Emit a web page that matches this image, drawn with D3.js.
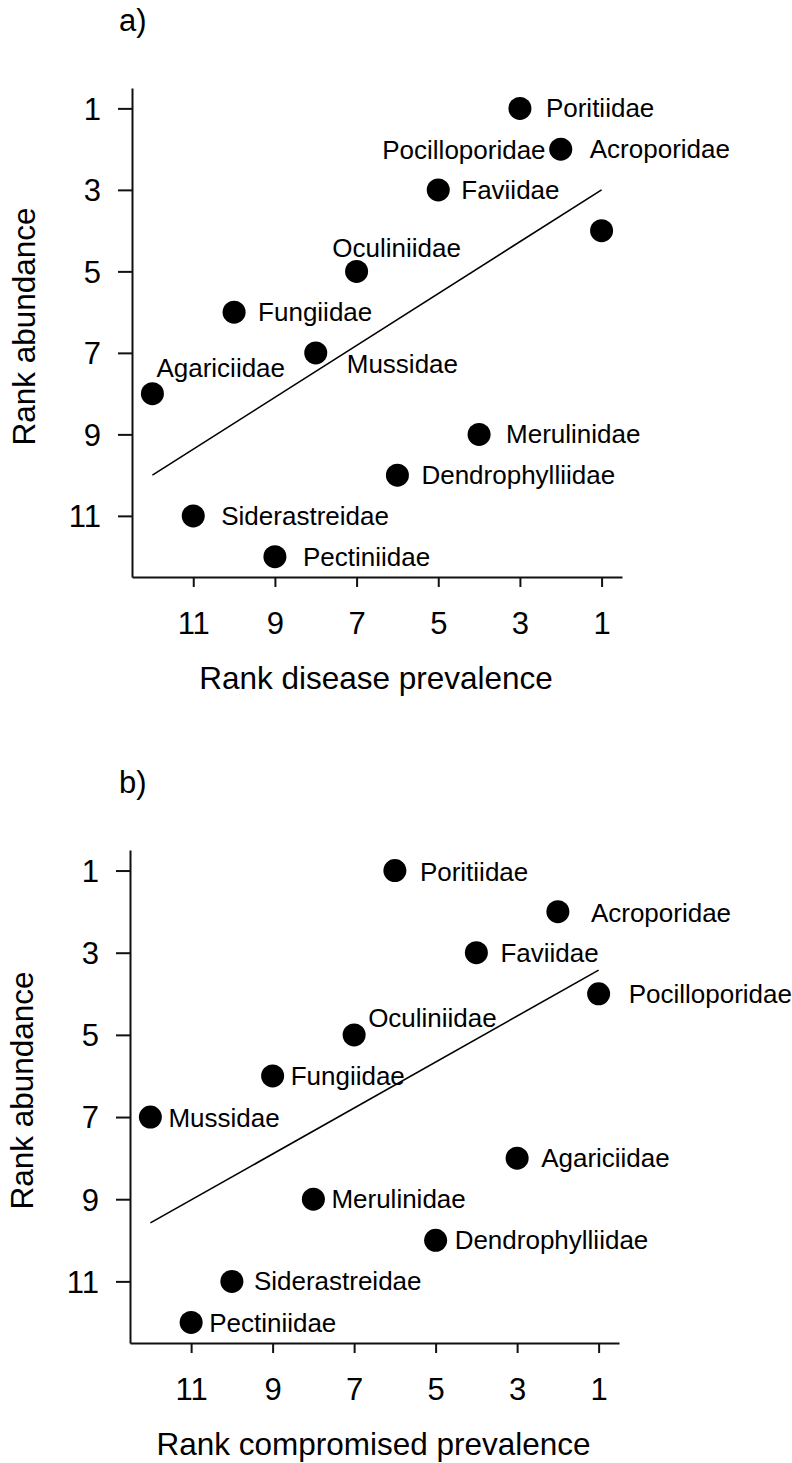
<!DOCTYPE html>
<html>
<head>
<meta charset="utf-8">
<script src="https://cdn.jsdelivr.net/npm/d3@7"></script>
<style>
  html, body { margin: 0; padding: 0; background: #fff; }
  svg { display: block; font-family: "Liberation Sans", Arial, Helvetica, sans-serif; }
</style>
</head>
<body>
<svg id="fig" width="792" height="1463"></svg>
<script>
// Coral families, in order of abundance rank
const families = ["Poritiidae", "Acroporidae", "Faviidae", "Pocilloporidae", "Oculiniidae",
  "Fungiidae", "Mussidae", "Agariciidae", "Merulinidae", "Dendrophylliidae",
  "Siderastreidae", "Pectiniidae"];
const rankAbundance = [1, 2, 3, 4, 5, 6, 7, 8, 9, 10, 11, 12];
const rankDisease = [3, 2, 5, 1, 7, 10, 8, 12, 4, 6, 11, 9];
const rankCompromised = [6, 2, 4, 1, 7, 9, 12, 3, 8, 5, 10, 11];
const tickValues = [1, 3, 5, 7, 9, 11];

const svg = d3.select("#fig");

// Label placement per family (pixel offsets from the point, text anchor)
const labelsA = {
  "Poritiidae": [26, 0, "start"], "Acroporidae": [29, 0, "start"],
  "Faviidae": [23, 0, "start"], "Pocilloporidae": [-56, -81, "end"],
  "Oculiniidae": [40, -23, "middle"], "Fungiidae": [24, 0, "start"],
  "Mussidae": [31, 11, "start"], "Agariciidae": [4, -26, "start"],
  "Merulinidae": [27, 0, "start"], "Dendrophylliidae": [24, 0, "start"],
  "Siderastreidae": [28, 0, "start"], "Pectiniidae": [28, 0, "start"]
};
const labelsB = {
  "Poritiidae": [25, 1, "start"], "Acroporidae": [33, 1, "start"],
  "Faviidae": [24, 0, "start"], "Pocilloporidae": [30, 0, "start"],
  "Oculiniidae": [14, -17, "start"], "Fungiidae": [18, 0, "start"],
  "Mussidae": [18, 1, "start"], "Agariciidae": [24, 0, "start"],
  "Merulinidae": [18, 0, "start"], "Dendrophylliidae": [19, 0, "start"],
  "Siderastreidae": [22, 0, "start"], "Pectiniidae": [18, 0, "start"]
};

function panel(opts) {
  const { left, right, top, bottom, xs, ys, letter, xTitle, labels } = opts;
  const g = svg.append("g");
  const x = d3.scaleLinear().domain([12.5, 0.5]).range([left, right]);
  const y = d3.scaleLinear().domain([0.5, 12.5]).range([top, bottom]);

  // axes
  const xAxis = d3.axisBottom(x).tickValues(tickValues).tickSize(10).tickSizeOuter(0).tickPadding(25);
  const yAxis = d3.axisLeft(y).tickValues(tickValues).tickSize(14).tickSizeOuter(0).tickPadding(17);
  const gx = g.append("g").attr("transform", `translate(0,${bottom})`).call(xAxis);
  const gy = g.append("g").attr("transform", `translate(${left},0)`).call(yAxis);
  [gx, gy].forEach(a => {
    a.select(".domain").attr("stroke", "#111").attr("stroke-width", 2);
    a.selectAll(".tick line").attr("stroke", "#111").attr("stroke-width", 2);
    a.selectAll(".tick text").attr("fill", "#000").attr("font-size", 31)
      .attr("font-family", "Liberation Sans, Arial, sans-serif");
  });
  gy.selectAll(".tick text").attr("dy", "0.35em");
  gx.selectAll(".tick text").attr("dy", "0.71em");

  // least-squares fit of abundance rank on prevalence rank
  const mx = d3.mean(xs), my = d3.mean(ys);
  const sxy = d3.sum(xs, (v, i) => (v - mx) * (ys[i] - my));
  const sxx = d3.sum(xs, v => (v - mx) * (v - mx));
  const slope = sxy / sxx, icpt = my - slope * mx;
  const ext = d3.extent(xs);
  g.append("line")
    .attr("x1", x(ext[1])).attr("y1", y(icpt + slope * ext[1]))
    .attr("x2", x(ext[0])).attr("y2", y(icpt + slope * ext[0]))
    .attr("stroke", "#000").attr("stroke-width", 1.6);

  // points
  g.selectAll("circle.pt").data(families).join("circle")
    .attr("class", "pt")
    .attr("cx", (d, i) => x(xs[i])).attr("cy", (d, i) => y(ys[i]))
    .attr("r", 11.5).attr("fill", "#000");

  // family labels
  g.selectAll("text.lab").data(families).join("text")
    .attr("class", "lab")
    .attr("x", (d, i) => x(xs[i]) + labels[d][0])
    .attr("y", (d, i) => y(ys[i]) + labels[d][1])
    .attr("dy", "0.35em")
    .attr("text-anchor", d => labels[d][2])
    .attr("font-size", 26)
    .text(d => d);

  // titles
  g.append("text").attr("x", (left + right) / 2 - 1).attr("y", bottom + 112)
    .attr("text-anchor", "middle").attr("font-size", 31.5).text(xTitle);
  g.append("text")
    .attr("transform", `translate(${left - 97},${(top + bottom) / 2 - 6}) rotate(-90)`)
    .attr("text-anchor", "middle").attr("font-size", 31.5).text("Rank abundance");
  g.append("text").attr("x", 119).attr("y", top - 57)
    .attr("font-size", 31).text(letter);
}

panel({ left: 132, right: 622, top: 88, bottom: 577, xs: rankDisease, ys: rankAbundance,
  letter: "a)", xTitle: "Rank disease prevalence", labels: labelsA });
panel({ left: 130, right: 619, top: 850, bottom: 1343, xs: rankCompromised, ys: rankAbundance,
  letter: "b)", xTitle: "Rank compromised prevalence", labels: labelsB });
</script>
</body>
</html>
